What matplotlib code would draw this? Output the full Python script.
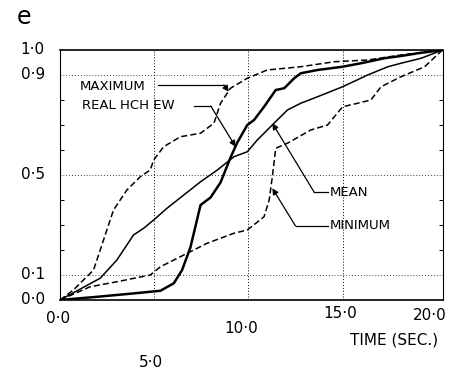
import matplotlib
matplotlib.use("Agg")
import matplotlib.pyplot as plt

# curves (time in sec, normalised value)
real_t = [0.0, 2.0, 4.0, 5.33, 6.04, 6.48, 6.92, 7.46, 7.99, 8.52, 9.05, 9.41, 9.94, 10.3,
          10.83, 11.45, 11.9, 12.43, 12.78, 13.67, 15.0, 15.98, 17.22, 18.1, 19.0, 20.3]
real_v = [0.0, 0.013, 0.027, 0.037, 0.067, 0.12, 0.21, 0.38, 0.41, 0.47, 0.57, 0.63, 0.70, 0.72,
          0.773, 0.84, 0.847, 0.887, 0.907, 0.92, 0.933, 0.947, 0.967, 0.976, 0.987, 1.0]

mean_t = [0.0, 2.13, 3.02, 3.9, 4.44, 4.97, 5.68, 6.57, 7.46, 8.35, 9.23, 9.94, 10.47, 11.36,
          12.07, 12.78, 13.67, 15.0, 16.33, 17.4, 18.1, 19.17, 20.3]
mean_v = [0.0, 0.087, 0.16, 0.26, 0.287, 0.32, 0.367, 0.42, 0.473, 0.52, 0.573, 0.593, 0.64, 0.707,
          0.76, 0.787, 0.813, 0.853, 0.90, 0.933, 0.947, 0.967, 1.0]

max_t = [0.0, 0.71, 1.78, 2.31, 2.84, 3.55, 4.26, 4.79, 4.97, 5.5, 6.39, 7.46, 8.17, 8.52,
         9.05, 9.94, 11.0, 12.78, 14.56, 16.33, 18.1, 20.3]
max_v = [0.0, 0.04, 0.12, 0.24, 0.36, 0.44, 0.493, 0.52, 0.56, 0.613, 0.653, 0.667, 0.707, 0.787,
         0.847, 0.887, 0.92, 0.933, 0.953, 0.96, 0.98, 1.0]

min_t = [0.0, 1.6, 3.02, 4.79, 5.33, 6.57, 7.81, 9.23, 9.94, 10.83, 11.1, 11.27, 11.45, 12.07,
         13.31, 14.2, 15.0, 15.8, 16.5, 17.04, 18.1, 19.35, 20.3]
min_v = [0.0, 0.053, 0.073, 0.10, 0.133, 0.18, 0.227, 0.267, 0.28, 0.333, 0.40, 0.493, 0.607, 0.627,
         0.68, 0.70, 0.773, 0.787, 0.80, 0.853, 0.893, 0.933, 1.0]

ytick_vals = [0.0, 0.1, 0.5, 0.9, 1.0]
ytick_text = ['0·0', '0·1', '0·5', '0·9', '1·0']

fig = plt.figure(figsize=(4.56, 3.75), dpi=100)
ax = fig.add_axes([0.1316, 0.2, 0.84, 0.6667])
ax.set_xlim(0, 20.33)
ax.set_ylim(0, 1.0)

ax.plot(real_t, real_v, color='black', lw=1.8)
ax.plot(mean_t, mean_v, color='black', lw=1.1)
ax.plot(max_t, max_v, color='black', lw=1.1, ls=(0, (4, 2)))
ax.plot(min_t, min_v, color='black', lw=1.1, ls=(0, (4, 2)))

# grid
for gx in [5, 10, 15]:
    ax.axvline(gx, color='black', lw=0.7, ls=(0, (1, 2)), zorder=0)
for gy in [0.1, 0.5, 0.9]:
    ax.axhline(gy, color='black', lw=0.6, ls=(0, (1, 2.5)), zorder=0)

for s in ['left', 'right']:
    ax.spines[s].set_linestyle((0, (5, 1, 1, 1)))
    ax.spines[s].set_linewidth(0.8)
ax.spines['top'].set_linewidth(1.2)
ax.spines['bottom'].set_linewidth(1.2)

ax.set_xticks([])
ax.set_yticks([0.2, 0.3, 0.4, 0.6, 0.7, 0.8], minor=True)
ax.set_yticks([])
ax.tick_params(axis='y', which='minor', direction='in', length=3, width=0.7,
               left=True, right=True)

fs = 11
for v, t in zip(ytick_vals, ytick_text):
    ax.text(-0.8, v, t, ha='right', va='center', fontsize=fs, clip_on=False)

# x labels (displaced as in the scan)
ax.text(-0.1, -0.075, '0·0', ha='center', va='center', fontsize=fs, clip_on=False)
ax.text(4.85, -0.25, '5·0', ha='center', va='center', fontsize=fs, clip_on=False)
ax.text(9.6, -0.115, '10·0', ha='center', va='center', fontsize=fs, clip_on=False)
ax.text(14.86, -0.055, '15·0', ha='center', va='center', fontsize=fs, clip_on=False)
ax.text(19.64, -0.06, '20·0', ha='center', va='center', fontsize=fs, clip_on=False)
ax.text(17.75, -0.16, 'TIME (SEC.)', ha='center', va='center', fontsize=fs, clip_on=False)

fig.text(0.037, 0.955, 'e', fontsize=17, ha='left', va='center')

# callouts
lfs = 9.5
arrow = dict(arrowstyle='-|>', color='black', lw=0.9, mutation_scale=9, shrinkA=0, shrinkB=0)

ax.text(1.07, 0.853, 'MAXIMUM', ha='left', va='center', fontsize=lfs)
ax.plot([5.2, 8.7], [0.86, 0.86], color='black', lw=0.9)
ax.annotate('', xy=(8.96, 0.833), xytext=(8.7, 0.86), arrowprops=arrow)

ax.text(1.15, 0.776, 'REAL HCH EW', ha='left', va='center', fontsize=lfs)
ax.plot([7.1, 8.0], [0.776, 0.776], color='black', lw=0.9)
ax.annotate('', xy=(9.32, 0.613), xytext=(8.0, 0.776), arrowprops=arrow)

ax.text(14.3, 0.43, 'MEAN', ha='left', va='center', fontsize=lfs)
ax.plot([13.5, 14.2], [0.43, 0.43], color='black', lw=0.9)
ax.annotate('', xy=(11.27, 0.707), xytext=(13.5, 0.43), arrowprops=arrow)

ax.text(14.3, 0.296, 'MINIMUM', ha='left', va='center', fontsize=lfs)
ax.plot([12.5, 14.2], [0.296, 0.296], color='black', lw=0.9)
ax.annotate('', xy=(11.27, 0.447), xytext=(12.5, 0.296), arrowprops=arrow)

fig.savefig('out.png', dpi=100)
